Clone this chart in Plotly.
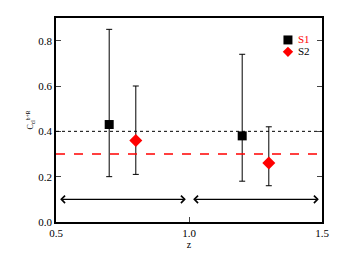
import plotly.graph_objects as go

# Data
s1_z = [0.7, 1.2]
s1_c = [0.43, 0.38]
s1_hi = [0.85, 0.74]
s1_lo = [0.20, 0.18]

s2_z = [0.8, 1.3]
s2_c = [0.36, 0.26]
s2_hi = [0.60, 0.42]
s2_lo = [0.21, 0.16]

ref_dotted = 0.4
ref_dashed = 0.3
bins = [(0.5, 1.0), (1.0, 1.5)]
bin_y = 0.1

x_ticks = [0.5, 1.0, 1.5]
x_ticktext = ["0.5", "1.0", "1.5"]
y_ticks = [0.0, 0.2, 0.4, 0.6, 0.8]

font = "Liberation Serif"

fig = go.Figure()

fig.add_trace(go.Scatter(
    x=s1_z, y=s1_c, mode="markers", name="S1",
    marker=dict(symbol="square", size=9, color="black"),
    error_y=dict(type="data", symmetric=False,
                 array=[h - c for h, c in zip(s1_hi, s1_c)],
                 arrayminus=[c - l for l, c in zip(s1_lo, s1_c)],
                 color="black", thickness=1, width=3),
))
fig.add_trace(go.Scatter(
    x=s2_z, y=s2_c, mode="markers", name="S2",
    marker=dict(symbol="diamond", size=10, color="red"),
    error_y=dict(type="data", symmetric=False,
                 array=[h - c for h, c in zip(s2_hi, s2_c)],
                 arrayminus=[c - l for l, c in zip(s2_lo, s2_c)],
                 color="black", thickness=1, width=3),
))

fig.add_hline(y=ref_dotted, line=dict(color="black", width=1, dash="dot"))
fig.add_hline(y=ref_dashed, line=dict(color="red", width=1.5, dash="dash"))

for a, b in bins:
    fig.add_annotation(x=b - 0.012, y=bin_y, ax=a + 0.01, ay=bin_y,
                       xref="x", yref="y", axref="x", ayref="y",
                       text="", showarrow=True, arrowhead=4, startarrowhead=4,
                       arrowside="end+start", arrowsize=1.2, arrowwidth=1.2,
                       arrowcolor="black")

# Manual legend: marker swatches (shapes) + labels
lx = 0.872
sq_y, di_y = 0.8924, 0.834
sq_hx, sq_hy = 0.0169, 0.022
di_hx, di_hy = 0.0195, 0.0255
fig.add_shape(type="rect", xref="paper", yref="paper",
              x0=lx - sq_hx, x1=lx + sq_hx, y0=sq_y - sq_hy, y1=sq_y + sq_hy,
              fillcolor="black", line=dict(width=0))
fig.add_shape(type="path", xref="paper", yref="paper",
              path=f"M {lx - di_hx},{di_y} L {lx},{di_y + di_hy} L {lx + di_hx},{di_y} L {lx},{di_y - di_hy} Z",
              fillcolor="red", line=dict(width=0))
for label, lcol, ypos in [("S1", "red", sq_y), ("S2", "black", di_y)]:
    fig.add_annotation(x=0.903, y=ypos + 0.005, xref="paper", yref="paper",
                       text=label, showarrow=False, xanchor="left", yanchor="middle",
                       font=dict(size=11, color=lcol, family=font))

fig.update_xaxes(range=[0.5, 1.5], tickvals=x_ticks, ticktext=x_ticktext,
                 ticks="inside", ticklen=5, showline=True, linecolor="black",
                 linewidth=1.5, mirror=True, showgrid=False, zeroline=False,
                 automargin=False,
                 title=dict(text="z", font=dict(size=10), standoff=2),
                 tickfont=dict(size=11))
fig.update_yaxes(range=[0, 0.9], tickvals=y_ticks, tickformat=".1f",
                 ticks="inside", ticklen=5, showline=True, linecolor="black",
                 linewidth=1.5, mirror="ticks", showgrid=False, zeroline=False,
                 automargin=False,
                 title=dict(text="C<sub>cl</sub><sup>b+R</sup>", font=dict(size=8), standoff=3),
                 tickfont=dict(size=11))

fig.update_layout(
    width=339, height=259,
    margin=dict(l=56, r=17, t=18, b=37),
    paper_bgcolor="white", plot_bgcolor="white",
    font=dict(family=font, color="black", size=11),
    showlegend=False,
)

fig.write_html("out.html", config={"displayModeBar": False},
               post_script="document.body.style.margin='0';")
